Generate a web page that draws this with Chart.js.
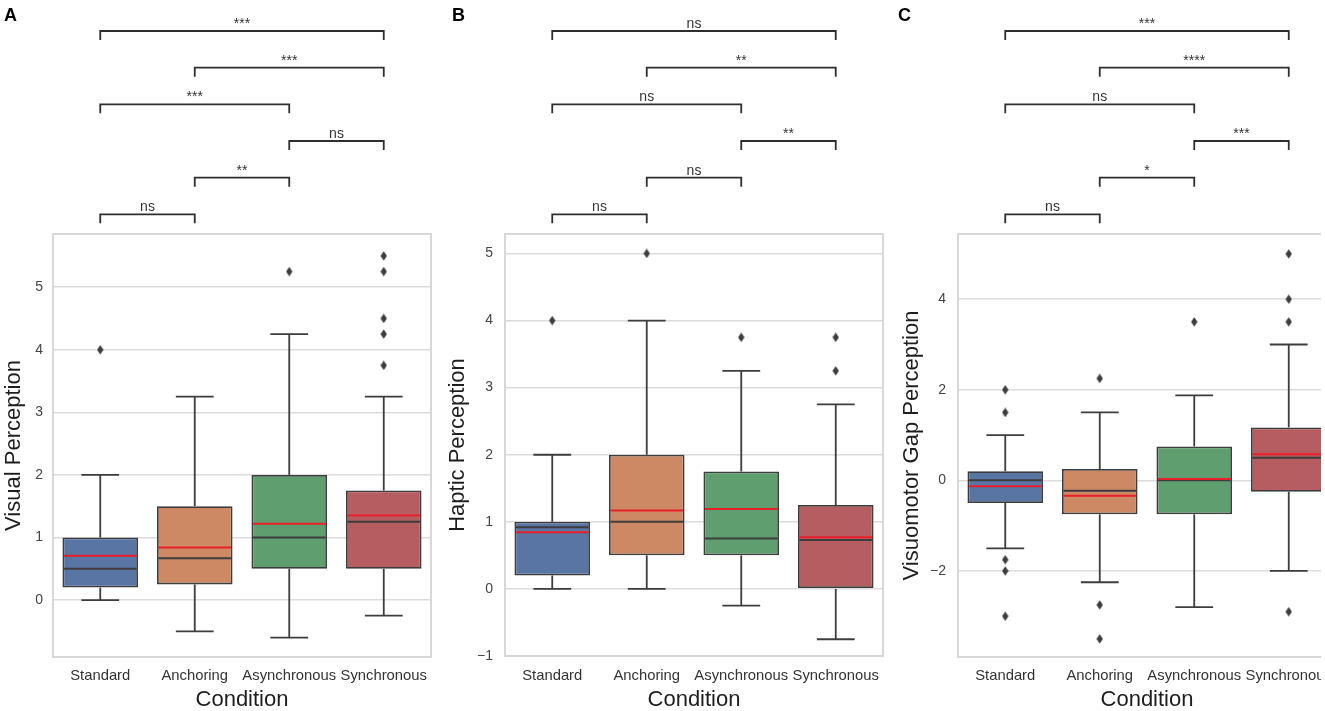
<!DOCTYPE html>
<html><head><meta charset="utf-8">
<script src="https://cdn.jsdelivr.net/npm/chart.js@4/dist/chart.umd.min.js"></script>
<style>
html,body{margin:0;padding:0;background:#fff;overflow:hidden;width:1325px;height:711px;}
.p{position:absolute;top:0;height:711px;overflow:hidden;}
canvas{display:block;}
</style></head><body>
<div class="p" style="left:0;width:440px"><canvas id="ca" width="440" height="711" style="width:440px;height:711px"></canvas></div>
<div class="p" style="left:440px;width:445px"><canvas id="cb" width="460" height="711" style="width:460px;height:711px"></canvas></div>
<div class="p" style="left:885px;width:436px"><canvas id="cc" width="475" height="711" style="width:475px;height:711px"></canvas></div>
<script>
const categories = ['Standard', 'Anchoring', 'Asynchronous', 'Synchronous'];
const boxColors = ['#5875a4', '#cc8963', '#5f9e6e', '#b55d60'];
const bracketPairs = [[0,1],[1,2],[2,3],[0,2],[1,3],[0,3]];

// Panel A: Visual Perception
const visualQ1 = [0.2, 0.25, 0.5, 0.5];
const visualQ3 = [1.0, 1.5, 2.0, 1.75];
const visualMedian = [0.5, 0.67, 1.0, 1.25];
const visualMean = [0.71, 0.84, 1.22, 1.35];
const visualLow = [0, -0.5, -0.6, -0.25];
const visualHigh = [2, 3.25, 4.25, 3.25];
const visualOutliers = [[4], [], [5.25], [5.5, 5.25, 4.5, 4.25, 3.75]];
const visualTicks = [0, 1, 2, 3, 4, 5];
const visualSig = ['ns', '**', 'ns', '***', '***', '***'];

// Panel B: Haptic Perception
const hapticQ1 = [0.2, 0.5, 0.5, 0.0];
const hapticQ3 = [1.0, 2.0, 1.75, 1.25];
const hapticMedian = [0.92, 1.0, 0.75, 0.73];
const hapticMean = [0.845, 1.17, 1.19, 0.77];
const hapticLow = [0, 0, -0.25, -0.75];
const hapticHigh = [2, 4, 3.25, 2.75];
const hapticOutliers = [[4], [5], [3.75], [3.75, 3.25]];
const hapticTicks = [-1, 0, 1, 2, 3, 4, 5];
const hapticSig = ['ns', 'ns', '**', 'ns', '**', 'ns'];

// Panel C: Visuomotor Gap Perception
const gapQ1 = [-0.5, -0.75, -0.75, -0.25];
const gapQ3 = [0.2, 0.25, 0.75, 1.17];
const gapMedian = [0, -0.23, 0.0, 0.5];
const gapMean = [-0.13, -0.34, 0.03, 0.575];
const gapLow = [-1.5, -2.25, -2.8, -2.0];
const gapHigh = [1.0, 1.5, 1.875, 3.0];
const gapOutliers = [[2, 1.5, -1.75, -2, -3], [2.25, -2.75, -3.5], [3.5], [5, 4, 3.5, -2.9]];
const gapTicks = [-2, 0, 2, 4];
const gapSig = ['ns', '*', '***', 'ns', '****', '***'];

const FONT = '"Liberation Sans", Arial, sans-serif';
const EDGE = '#3d3d3d';

// thin diamond marker
const diamond = document.createElement('canvas');
diamond.width = 7; diamond.height = 10;
(function(){
  const c = diamond.getContext('2d');
  c.fillStyle = EDGE;
  c.beginPath(); c.moveTo(3.5, 0.3); c.lineTo(6.7, 5); c.lineTo(3.5, 9.7); c.lineTo(0.3, 5); c.closePath(); c.fill();
})();

function makePlugin(s) {
  return {
    id: 'boxExtras',
    beforeDatasetsDraw(chart) {
      const {ctx, chartArea: a} = chart;
      const x = chart.scales.x, y = chart.scales.y;
      ctx.save();
      ctx.strokeStyle = '#d4d4d4'; ctx.lineWidth = 1.8;
      ctx.strokeRect(a.left, a.top, a.right - a.left, a.bottom - a.top);
      const bw = (x.right - x.left) / categories.length * 0.8;
      ctx.strokeStyle = EDGE; ctx.lineWidth = 1.8; ctx.lineCap = 'butt';
      for (let i = 0; i < categories.length; i++) {
        const xc = x.getPixelForValue(i);
        const segs = [[s.q3[i], s.high[i]], [s.q1[i], s.low[i]]];
        for (const [from, to] of segs) {
          ctx.beginPath();
          ctx.moveTo(xc, y.getPixelForValue(from));
          ctx.lineTo(xc, y.getPixelForValue(to));
          ctx.stroke();
          ctx.beginPath();
          ctx.moveTo(xc - bw / 4, y.getPixelForValue(to));
          ctx.lineTo(xc + bw / 4, y.getPixelForValue(to));
          ctx.stroke();
        }
      }
      ctx.restore();
    },
    afterDatasetsDraw(chart) {
      const {ctx} = chart;
      const x = chart.scales.x, y = chart.scales.y;
      const bw = (x.right - x.left) / categories.length * 0.8;
      ctx.save();
      for (let i = 0; i < categories.length; i++) {
        const xc = x.getPixelForValue(i);
        ctx.lineWidth = 2;
        ctx.strokeStyle = EDGE;
        ctx.beginPath();
        ctx.moveTo(xc - bw / 2 + 1.5, y.getPixelForValue(s.median[i]));
        ctx.lineTo(xc + bw / 2 - 1.5, y.getPixelForValue(s.median[i]));
        ctx.stroke();
        ctx.strokeStyle = '#e8202a';
        ctx.beginPath();
        ctx.moveTo(xc - bw / 2 + 1.5, y.getPixelForValue(s.mean[i]));
        ctx.lineTo(xc + bw / 2 - 1.5, y.getPixelForValue(s.mean[i]));
        ctx.stroke();
      }
      ctx.restore();
    },
    afterDraw(chart) {
      const {ctx} = chart;
      const x = chart.scales.x;
      ctx.save();
      ctx.strokeStyle = '#2e2e2e'; ctx.lineWidth = 1.8;
      ctx.fillStyle = '#333';
      ctx.font = '14px ' + FONT;
      ctx.textAlign = 'center'; ctx.textBaseline = 'alphabetic';
      bracketPairs.forEach((p, r) => {
        const ly = 214.3 - r * 36.66;
        const x1 = x.getPixelForValue(p[0]), x2 = x.getPixelForValue(p[1]);
        ctx.beginPath();
        ctx.moveTo(x1, ly + 9); ctx.lineTo(x1, ly); ctx.lineTo(x2, ly); ctx.lineTo(x2, ly + 9);
        ctx.stroke();
        ctx.fillText(s.sig[r], (x1 + x2) / 2, ly - 3);
      });
      ctx.fillStyle = '#000';
      ctx.textAlign = 'left';
      ctx.font = 'bold 18px ' + FONT;
      ctx.fillText(s.letter, s.letterX, 21);
      ctx.restore();
    }
  };
}

function buildChart(id, s) {
  const cv = document.getElementById(id);
  return new Chart(cv, {
    type: 'bar',
    data: {
      labels: categories,
      datasets: [
        { type: 'bar', data: categories.map((c, i) => [s.q1[i], s.q3[i]]),
          backgroundColor: boxColors, borderColor: EDGE, borderWidth: 1.8, borderSkipped: false,
          barPercentage: 0.8, categoryPercentage: 1.0, grouped: false, order: 2 },
        { type: 'line', data: s.outliers.flatMap((arr, i) => arr.map(v => ({x: categories[i], y: v}))),
          showLine: false, pointStyle: diamond, pointRadius: 4, order: 1 }
      ]
    },
    options: {
      responsive: false, animation: false, devicePixelRatio: 1,
      layout: { padding: { left: 0, top: 234, right: s.padR, bottom: 0 } },
      plugins: { legend: { display: false }, tooltip: { enabled: false } },
      scales: {
        x: {
          grid: { display: false, drawTicks: false }, border: { display: false },
          afterFit: sc => { sc.height = s.xH; },
          ticks: { autoSkip: false, maxRotation: 0, minRotation: 0, padding: s.xTickPad,
                   font: { family: FONT, size: 14.8 }, color: '#333' },
          title: { display: true, text: 'Condition', color: '#1e1e1e',
                   font: { family: FONT, size: 22, lineHeight: 1 }, padding: { top: 0, bottom: 0 } }
        },
        y: {
          min: s.min, max: s.max,
          afterBuildTicks: sc => { sc.ticks = s.ticks.map(v => ({ value: v })); },
          afterFit: sc => { sc.width = s.yW; },
          grid: { color: '#dcdcdc', lineWidth: 1.6, drawTicks: false }, border: { display: false },
          ticks: { padding: s.yTickPad, font: { family: FONT, size: 14 }, color: '#444',
                   callback: v => String(v).replace('-', '\u2212') },
          title: { display: true, text: s.title, color: '#1e1e1e',
                   font: { family: FONT, size: 22, lineHeight: 1 }, padding: { top: s.yTitlePad, bottom: 0 } }
        }
      }
    },
    plugins: [makePlugin(s)]
  });
}

buildChart('ca', { q1: visualQ1, q3: visualQ3, median: visualMedian, mean: visualMean, low: visualLow, high: visualHigh,
  outliers: visualOutliers, ticks: visualTicks, sig: visualSig, min: -0.91, max: 5.85, title: 'Visual Perception',
  yW: 53, yTickPad: 10, yTitlePad: 3, padR: 9, xH: 54, xTickPad: 10, letter: 'A', letterX: 4 });
buildChart('cb', { q1: hapticQ1, q3: hapticQ3, median: hapticMedian, mean: hapticMean, low: hapticLow, high: hapticHigh,
  outliers: hapticOutliers, ticks: hapticTicks, sig: hapticSig, min: -1, max: 5.29, title: 'Haptic Perception',
  yW: 65, yTickPad: 12, yTitlePad: 7, padR: 17, xH: 55, xTickPad: 11, letter: 'B', letterX: 12 });
buildChart('cc', { q1: gapQ1, q3: gapQ3, median: gapMedian, mean: gapMean, low: gapLow, high: gapHigh,
  outliers: gapOutliers, ticks: gapTicks, sig: gapSig, min: -3.9, max: 5.44, title: 'Visuomotor Gap Perception',
  yW: 73, yTickPad: 12, yTitlePad: 16, padR: 24, xH: 54, xTickPad: 10, letter: 'C', letterX: 13 });
</script>
</body></html>
